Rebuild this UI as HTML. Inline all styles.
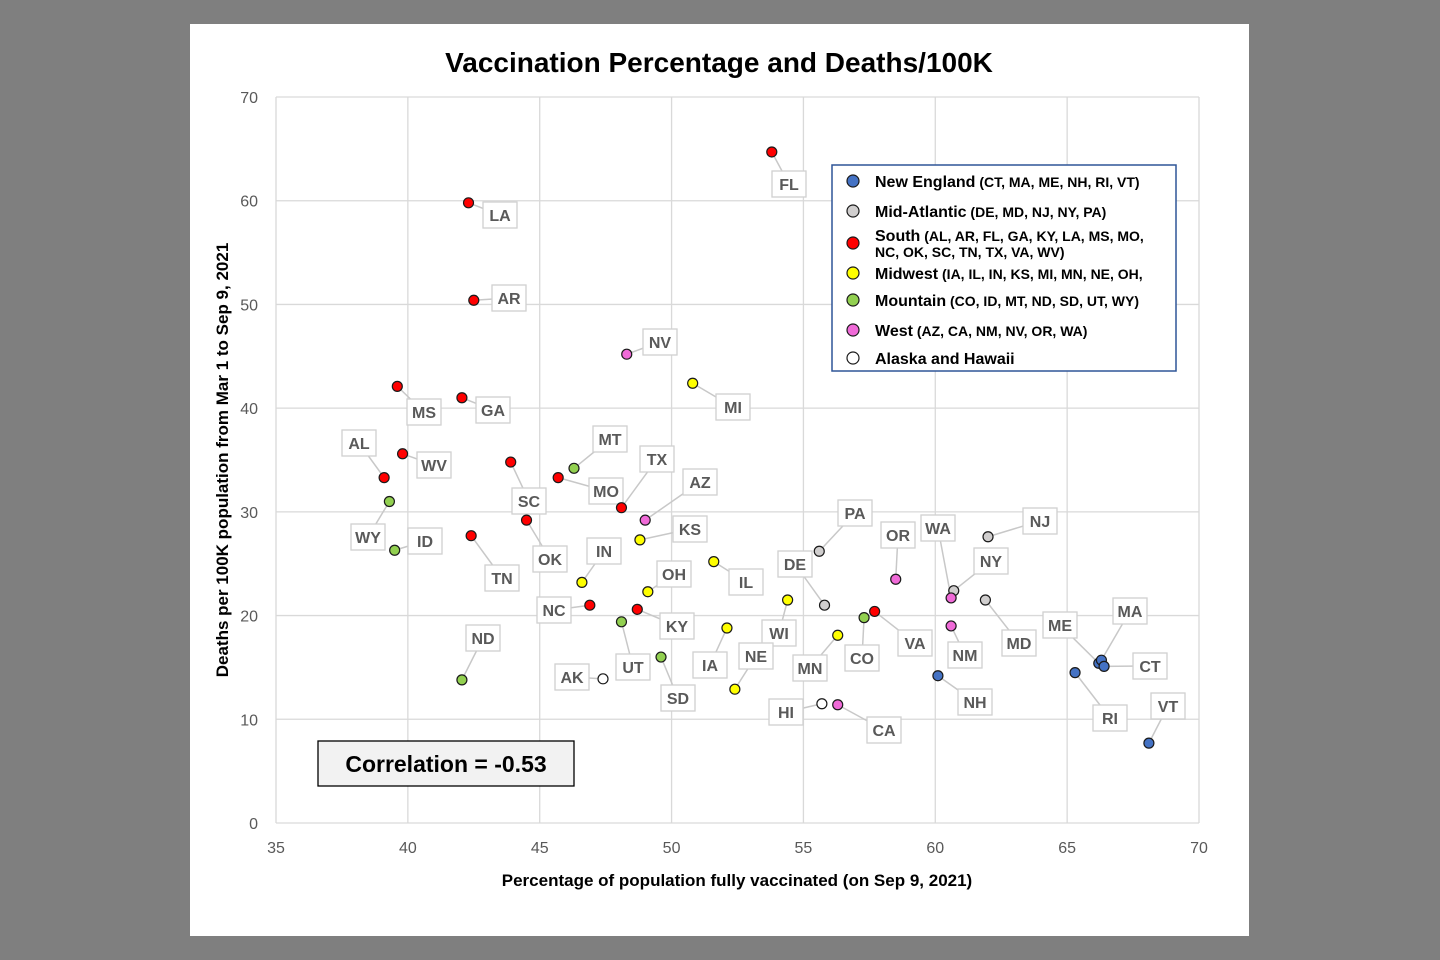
<!DOCTYPE html>
<html><head><meta charset="utf-8"><style>
body{margin:0;width:1440px;height:960px;background:#7f7f7f;font-family:"Liberation Sans",sans-serif;overflow:hidden}
#panel{position:absolute;left:190px;top:24px;width:1059px;height:912px;background:#fff}
svg{position:absolute;left:0;top:0}
</style></head><body>
<div id="panel"></div>
<svg id="chart" width="1440" height="960"></svg>
<script>
const states=["FL","LA","AR","NV","MI","MS","GA","WV","AL","SC","MO","MT","TX","AZ","OK","WY","ID","TN","KS","IN","IL","PA","NJ","OR","NY","WA","DE","MD","NC","OH","KY","WI","VA","CO","UT","IA","MN","NM","SD","ND","AK","NE","NH","ME","MA","CT","RI","HI","CA","VT"];
const vacc=[53.8,42.3,42.5,48.3,50.8,39.6,42.05,39.8,39.1,43.9,45.7,46.3,48.1,49.0,44.5,39.3,39.5,42.4,48.8,46.6,51.6,55.6,62.0,58.5,60.7,60.6,55.8,61.9,46.9,49.1,48.7,54.4,57.7,57.3,48.1,52.1,56.3,60.6,49.6,42.05,47.4,52.4,60.1,66.2,66.3,66.4,65.3,55.7,56.3,68.1];
const deaths=[64.7,59.8,50.4,45.2,42.4,42.1,41.0,35.6,33.3,34.8,33.3,34.2,30.4,29.2,29.2,31.0,26.3,27.7,27.3,23.2,25.2,26.2,27.6,23.5,22.4,21.7,21.0,21.5,21.0,22.3,20.6,21.5,20.4,19.8,19.4,18.8,18.1,19.0,16.0,13.8,13.9,12.9,14.2,15.4,15.7,15.1,14.5,11.5,11.4,7.7];
const region=["S","S","S","W","MW","S","S","S","S","S","S","MT","S","W","S","MT","MT","S","MW","MW","MW","MA","MA","W","MA","W","MA","MA","S","MW","S","MW","S","MT","MT","MW","MW","W","MT","MT","AH","MW","NE","NE","NE","NE","NE","AH","W","NE"];
const xTicks=[35,40,45,50,55,60,65,70];
const yTicks=[0,10,20,30,40,50,60,70];
const labelPos={FL:[789,184],LA:[500,215],AR:[509,298],NV:[660,342],MI:[733,407],MS:[424,412],GA:[493,410],WV:[434,465],AL:[359,443],SC:[529,501],MO:[606,491],MT:[610,439],TX:[657,459],AZ:[700,482],OK:[550,559],WY:[368,537],ID:[425,541],TN:[502,578],KS:[690,529],IN:[604,551],IL:[746,582],PA:[855,513],NJ:[1040,521],OR:[898,535],NY:[991,561],WA:[938,528],DE:[795,564],MD:[1019,643],NC:[554,610],OH:[674,574],KY:[677,626],WI:[779,633],VA:[915,643],CO:[862,658],UT:[633,667],IA:[710,665],MN:[810,668],NM:[965,655],SD:[678,698],ND:[483,638],AK:[572,677],NE:[756,656],NH:[975,702],ME:[1060,625],MA:[1130,611],CT:[1150,666],RI:[1110,718],HI:[786,712],CA:[884,730],VT:[1168,706]};
const colors={NE:"#4472c4",MA:"#d0cece",S:"#ff0000",MW:"#ffff00",MT:"#92d050",W:"#f06ad8",AH:"#ffffff"};
const X0=276,X1=1199,Y0=823,Y1=97;
const sx=v=>X0+(v-35)/35*(X1-X0);
const sy=v=>Y0-v/70*(Y0-Y1);
const svg=document.getElementById('chart');const NS="http://www.w3.org/2000/svg";
function mk(t,a,txt){const e=document.createElementNS(NS,t);for(const k in a)e.setAttribute(k,a[k]);if(txt!=null)e.textContent=txt;svg.appendChild(e);return e;}
xTicks.forEach(t=>{const g=mk('line',{x1:sx(t),x2:sx(t),y1:Y1,y2:Y0,stroke:'#d9d9d9','stroke-width':1.3});

const l=mk('text',{x:sx(t),y:853,'text-anchor':'middle','font-size':16,fill:'#595959'},t);
});
yTicks.forEach(t=>{const g=mk('line',{x1:X0,x2:X1,y1:sy(t),y2:sy(t),stroke:'#d9d9d9','stroke-width':1.3});

const l=mk('text',{x:258,y:sy(t)+6,'text-anchor':'end','font-size':16,fill:'#595959'},t);
});
let e;
e=mk('text',{x:719,y:72,'text-anchor':'middle','font-size':28,'font-weight':'bold',fill:'#000'},'Vaccination Percentage and Deaths/100K');

e=mk('text',{x:737,y:886,'text-anchor':'middle','font-size':17,'font-weight':'bold',fill:'#000'},'Percentage of population fully vaccinated (on Sep 9, 2021)');

e=mk('text',{x:0,y:0,'text-anchor':'middle','font-size':17,'font-weight':'bold',fill:'#000',transform:'translate(228,460) rotate(-90)'},'Deaths per 100K population from Mar 1 to Sep 9, 2021');

states.forEach((s,i)=>{const p=labelPos[s];const l=mk('line',{x1:sx(vacc[i]),y1:sy(deaths[i]),x2:p[0],y2:p[1],stroke:'#c8c8c8','stroke-width':1.5});
});
states.forEach((s,i)=>{const p=labelPos[s];const w=s.length*13+8;
const r=mk('rect',{x:p[0]-w/2,y:p[1]-13,width:w,height:26,fill:'#fff',stroke:'#d0d0d0','stroke-width':1.3});

const t=mk('text',{x:p[0],y:p[1]+6,'text-anchor':'middle','font-size':16,'font-weight':'bold',fill:'#595959'},s);
});
states.forEach((s,i)=>{const c=mk('circle',{cx:sx(vacc[i]),cy:sy(deaths[i]),r:5,fill:colors[region[i]],stroke:'#1a1a1a','stroke-width':1.2});
});
e=mk('rect',{x:832,y:165,width:344,height:206,fill:'#fff',stroke:'#2f5597','stroke-width':1.5});

const leg=[["NE","New England"," (CT, MA, ME, NH, RI, VT)",181,187],["MA","Mid-Atlantic"," (DE, MD, NJ, NY, PA)",211,217],["S","South"," (AL, AR, FL, GA, KY, LA, MS, MO,",243,241],["MW","Midwest"," (IA, IL, IN, KS, MI, MN, NE, OH,",273,279],["MT","Mountain"," (CO, ID, MT, ND, SD, UT, WY)",300,306],["W","West"," (AZ, CA, NM, NV, OR, WA)",330,336],["AH","Alaska and Hawaii","",358,364]];
leg.forEach(l=>{const c=mk('circle',{cx:853,cy:l[3],r:6,fill:colors[l[0]],stroke:'#1a1a1a','stroke-width':1.2});

const t=mk('text',{x:875,y:l[4],'font-size':16,'font-weight':'bold',fill:'#000'});

t.innerHTML=l[1]+'<tspan font-size="14">'+l[2]+'</tspan>';});
e=mk('text',{x:875,y:257,'font-size':14,'font-weight':'bold',fill:'#000'},'NC, OK, SC, TN, TX, VA, WV)');

e=mk('rect',{x:318,y:741,width:256,height:45,fill:'#f2f2f2',stroke:'#000','stroke-width':1.3});

e=mk('text',{x:446,y:772,'text-anchor':'middle','font-size':23,'font-weight':'bold',fill:'#000'},'Correlation = -0.53');

</script>
</body></html>
